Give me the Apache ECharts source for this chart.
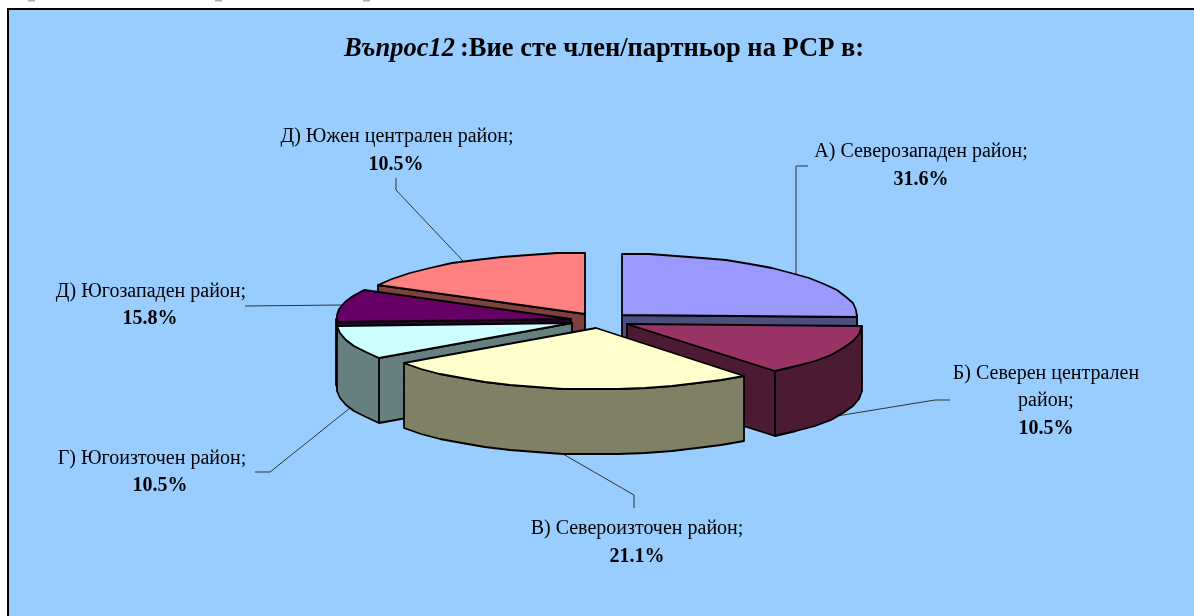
<!DOCTYPE html>
<html>
<head>
<meta charset="utf-8">
<style>html,body{margin:0;padding:0;background:#fff;overflow:hidden}#c{width:1194px;height:616px}</style>
<script src="https://cdn.jsdelivr.net/npm/echarts@6/dist/echarts.min.js"></script>
</head>
<body>
<div id="c"></div>
<script>
// Clockwise from 12 o'clock.
var categories = ['А) Северозападен район;', 'Б) Северен централен район;', 'В) Североизточен район;', 'Г) Югоизточен район;', 'Д) Югозападен район;', 'Д) Южен централен район;'];
// Percentages printed in the labels.
var labelPercents = [31.6, 10.5, 21.1, 10.5, 15.8, 10.5];
// Share of the circle each slice occupies as drawn in the picture (the drawn
// slices of the source do not follow its printed percentages).
var drawnShares = [25.6, 13.6, 26.1, 8.9, 8.6, 17.2];
var topColors = ['#9999ff', '#993366', '#ffffcc', '#ccffff', '#660066', '#ff8080'];
var sideColors = ['#4d4d80', '#4d1a33', '#808066', '#668080', '#330033', '#804040'];
var paintOrder = [5, 0, 4, 3, 1, 2];

var FONT = '"Liberation Serif","Times New Roman",serif';
var view = {cx: 600.5, cy: 320.5, rx: 235, ry: 61, depth: 65, explode: 30, tilt: 0.26};
// Label anchor, and the elbow of its leader line.
var labelLayout = [
  {lines: ['А) Северозападен район;'], x: 921, y: 152, pctY: 180, pctX: 921, nudge: 1.7, elbow: [[796, 166], [808, 166]]},
  {lines: ['Б) Северен централен', 'район;'], x: 1046, y: 374, pctY: 429, pctX: 1046, nudge: 0, elbow: [[935, 400], [950, 400]]},
  {lines: ['В) Североизточен район;'], x: 637, y: 529, pctY: 557, pctX: 637, nudge: 0, elbow: [[634, 495], [634, 508]]},
  {lines: ['Г) Югоизточен район;'], x: 152, y: 459, pctY: 486, pctX: 160, nudge: 0, elbow: [[270, 472], [255, 472]]},
  {lines: ['Д) Югозападен район;'], x: 151, y: 292, pctY: 319, pctX: 150, nudge: 0, elbow: [[245, 306]]},
  {lines: ['Д) Южен централен район;'], x: 397, y: 137, pctY: 165, pctX: 396, nudge: 0, elbow: [[396, 190], [396, 178]]}
];
// Grey remnants of clipped text above the frame.
var topMarks = [28, 215, 363];

var total = drawnShares.reduce(function (a, b) { return a + b; }, 0);
var acc = 0;
var spans = drawnShares.map(function (v) {
  var s = acc / total * 360; acc += v;
  return [s, acc / total * 360];
});

function rad(d) { return d * Math.PI / 180; }
function apexOf(i) {
  var m = rad((spans[i][0] + spans[i][1]) / 2);
  return [view.cx + view.explode * Math.sin(m), view.cy - view.explode * view.tilt * Math.cos(m)];
}
function rimPt(a, deg, drop) {
  var t = rad(deg);
  return [Math.round(a[0] + view.rx * Math.sin(t)), Math.round(a[1] - view.ry * Math.cos(t) + (drop || 0))];
}
function arc(a, from, to, drop) {
  var pts = [], n = Math.max(2, Math.ceil(Math.abs(to - from) / 7));
  for (var k = 0; k <= n; k++) pts.push(rimPt(a, from + (to - from) * k / n, drop));
  return pts;
}
function poly(points, fill) {
  return {type: 'polygon', shape: {points: points}, style: {fill: fill, stroke: '#000', lineWidth: 1.8, lineJoin: 'round'}};
}
function text(str, x, y, bold) {
  return {type: 'text', style: {text: str, x: x, y: y, fill: '#000', font: (bold ? 'bold ' : '') + '20px ' + FONT, align: 'center', verticalAlign: 'middle'}};
}

function renderLeader(i) {
  var s = spans[i], L = labelLayout[i], m = (s[0] + s[1]) / 2 + L.nudge, a = apexOf(i);
  var front = m > 90 && m < 270;
  var pts = [rimPt(a, m, front ? view.depth : 0)].concat(L.elbow);
  var kids = [{type: 'polyline', shape: {points: pts}, style: {fill: 'none', stroke: '#333', lineWidth: 1}}];
  L.lines.forEach(function (t, k) { kids.push(text(t, L.x, L.y + k * 27, false)); });
  kids.push(text(labelPercents[i].toFixed(1) + '%', L.pctX, L.pctY, true));
  return kids;
}

function renderSlice(params, api) {
  var i = api.value(0), s = spans[i], a = apexOf(i), d = view.depth, kids = [];
  var ax = Math.round(a[0]), ay = Math.round(a[1]);
  var ap = [ax, ay], apLow = [ax, ay + d];
  if (s[1] < 180) {
    var r = rimPt(a, s[1]);
    kids.push(poly([ap, r, [r[0], r[1] + d], apLow], sideColors[i]));
  }
  if (s[0] > 180) {
    var r0 = rimPt(a, s[0]);
    kids.push(poly([ap, r0, [r0[0], r0[1] + d], apLow], sideColors[i]));
  }
  var from = Math.max(s[0], 90), to = Math.min(s[1], 270);
  if (from < to) {
    kids.push(poly(arc(a, from, to, 0).concat(arc(a, to, from, d)), sideColors[i]));
  }
  kids.push(poly([ap].concat(arc(a, s[0], s[1], 0)), topColors[i]));
  return {type: 'group', children: kids};
}

var chart = echarts.init(document.getElementById('c'), null, {renderer: 'canvas'});
chart.setOption({
  animation: false,
  backgroundColor: '#ffffff',
  title: {
    left: 599, top: 31, textAlign: 'center',
    text: '{a|Въпрос12} {b|:Вие сте член/партньор на РСР в:}',
    textStyle: {rich: {
      a: {fontFamily: FONT, fontSize: 26.5, fontWeight: 'bold', fontStyle: 'italic', color: '#000'},
      b: {fontFamily: FONT, fontSize: 26.5, fontWeight: 'bold', color: '#000'}
    }}
  },
  graphic: [
    {type: 'rect', z: -10, shape: {x: 8, y: 9, width: 1200, height: 620}, style: {fill: '#99ccff', stroke: '#000', lineWidth: 2}}
  ].concat(topMarks.map(function (x) {
    return {type: 'rect', z: -10, shape: {x: x, y: 0, width: 7, height: 1.5}, style: {fill: '#aaaaaa'}};
  })),
  series: [
    {
      type: 'custom', coordinateSystem: 'none', z: 1, silent: true, clip: false,
      data: categories.map(function (c, i) { return [i, labelPercents[i], c]; }),
      renderItem: function (params, api) {
        return {type: 'group', children: renderLeader(api.value(0))};
      }
    },
    {
      type: 'custom', coordinateSystem: 'none', z: 2, silent: true, clip: false,
      data: paintOrder.map(function (i) { return [i, drawnShares[i], categories[i]]; }),
      renderItem: renderSlice
    }
  ]
});
</script>
</body>
</html>
